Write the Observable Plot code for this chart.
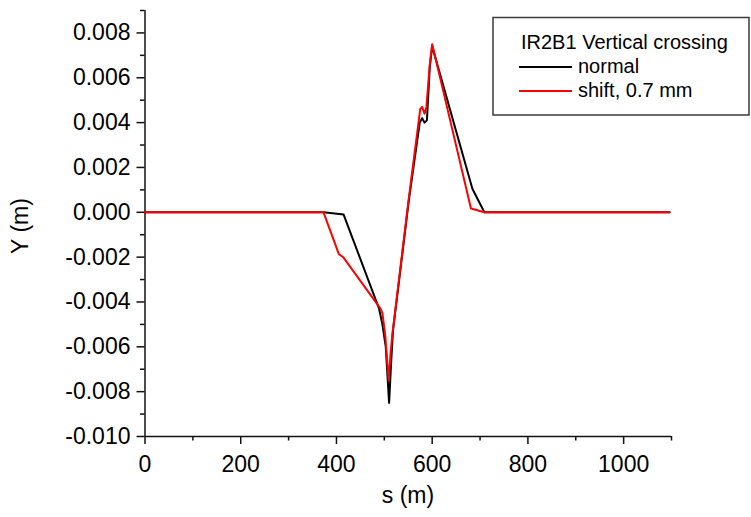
<!DOCTYPE html>
<html><head><meta charset="utf-8">
<script src="https://cdn.jsdelivr.net/npm/d3@7"></script>
<script src="https://cdn.jsdelivr.net/npm/@observablehq/plot@0.6"></script>
<style>
body{margin:0;background:#fff;}
#wrap{position:relative;width:751px;height:517px;}
</style></head><body><div id="wrap"></div>
<script>
// series: normal orbit
const normalS = [0, 373, 415, 489, 496, 503, 510, 514, 518, 551, 574, 579, 584, 589, 595, 600, 684, 709, 1096];
const normalY = [0, 0, -0.0001, -0.0043, -0.0050, -0.0060, -0.0085, -0.0068, -0.0053, 0.0005, 0.0040, 0.0042, 0.0040, 0.0041, 0.0065, 0.0074, 0.00105, 0, 0];
// series: shifted orbit
const shiftS = [0, 373, 405, 414, 492, 496, 502, 509, 513, 517, 551, 575, 579, 584, 588, 595, 600, 681, 709, 1096];
const shiftY = [0, 0, -0.00187, -0.0020, -0.0043, -0.0045, -0.0055, -0.0075, -0.0063, -0.0054, 0.0006, 0.0046, 0.0047, 0.0044, 0.0047, 0.0066, 0.0075, 0.00017, 0, 0];
const seriesNames = ["normal", "shift, 0.7 mm"];
const legendTitle = "IR2B1 Vertical crossing";
const xTicks = [0, 200, 400, 600, 800, 1000];
const xMinor = [100, 300, 500, 700, 900, 1100];
const yTicks = [-0.010, -0.008, -0.006, -0.004, -0.002, 0.000, 0.002, 0.004, 0.006, 0.008];
const yMinor = [-0.009, -0.007, -0.005, -0.003, -0.001, 0.001, 0.003, 0.005, 0.007, 0.009];
const xLabel = "s (m)";
const yLabel = "Y (m)";

const normalRows = normalS.map((s, i) => ({s, y: normalY[i]}));
const shiftRows = shiftS.map((s, i) => ({s, y: shiftY[i]}));
const font = "'Liberation Sans', Arial, Helvetica, sans-serif";

const plot = Plot.plot({
  width: 751, height: 517,
  marginLeft: 144.5, marginRight: 80, marginTop: 10, marginBottom: 81,
  style: {fontFamily: font, fontSize: "23px", color: "#000", background: "#fff", overflow: "visible"},
  x: {domain: [0, 1100]},
  y: {domain: [-0.010, 0.009]},
  marks: [
    Plot.axisX({ticks: xMinor, tickSize: 4.5, tickFormat: () => "", label: null, strokeWidth: 1.5, stroke: "#111"}),
    Plot.axisX({ticks: xTicks, tickSize: 8, tickPadding: 11, tickFormat: d => String(d), label: null, strokeWidth: 1.5, stroke: "#111", fontSize: 23}),
    Plot.axisY({ticks: yMinor, tickSize: 4.5, tickFormat: () => "", label: null, strokeWidth: 1.5, stroke: "#111"}),
    Plot.axisY({ticks: yTicks, tickSize: 8, tickPadding: 6.5, tickFormat: d => d.toFixed(3), label: null, strokeWidth: 1.5, stroke: "#111", fontSize: 23}),
    Plot.ruleX([0], {y1: -0.010, y2: 0.009, stroke: "#111", strokeWidth: 1.5}),
    Plot.ruleY([-0.010], {x1: 0, x2: 1100, stroke: "#111", strokeWidth: 1.5}),
    Plot.line(normalRows, {x: "s", y: "y", stroke: "#000", strokeWidth: 2}),
    Plot.line(shiftRows, {x: "s", y: "y", stroke: "#ff0000", strokeWidth: 2})
  ]
});
document.getElementById("wrap").appendChild(plot);

const svg = d3.select(plot);
// axis titles
svg.append("text").attr("x", 408).attr("y", 503).attr("text-anchor", "middle")
  .attr("font-family", font).attr("font-size", 23).attr("fill", "#000").text(xLabel);
svg.append("text").attr("transform", "translate(28,226) rotate(-90)").attr("text-anchor", "middle")
  .attr("font-family", font).attr("font-size", 23).attr("fill", "#000").text(yLabel);

// legend
const lg = svg.append("g").attr("text-anchor", "start");
lg.append("rect").attr("x", 493).attr("y", 17.5).attr("width", 256).attr("height", 97.5)
  .attr("fill", "#fff").attr("stroke", "#3a3a3a").attr("stroke-width", 1.5);
lg.append("text").attr("x", 521).attr("y", 48.5).attr("text-anchor", "start").attr("font-family", font).attr("font-size", 20).attr("fill", "#000").text(legendTitle);
const colors = ["#000", "#ff0000"];
seriesNames.forEach((name, i) => {
  const cy = 67 + i * 24;
  lg.append("line").attr("x1", 519).attr("x2", 572).attr("y1", cy).attr("y2", cy)
    .attr("stroke", colors[i]).attr("stroke-width", 2);
  lg.append("text").attr("x", 578).attr("y", cy + 6).attr("text-anchor", "start").attr("font-family", font).attr("font-size", 20).attr("fill", "#000").text(name);
});
</script>
</body></html>
